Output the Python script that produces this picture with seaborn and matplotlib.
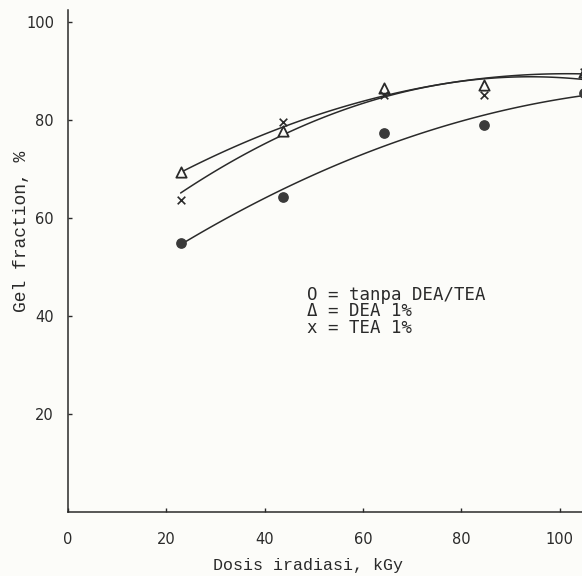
import numpy as np
import pandas as pd
import matplotlib
matplotlib.use('Agg')
import matplotlib.pyplot as plt
import seaborn as sns

# dosis iradiasi (kGy) dan fraksi gel (%)
DOSE = [22.9, 43.7, 64.3, 84.5, 104.9]
GEL_TANPA = [54.9, 64.3, 77.3, 79.0, 85.5]
GEL_DEA = [69.4, 77.8, 86.5, 87.1, 89.8]
GEL_TEA = [63.7, 79.6, 85.1, 85.1, 89.8]

X_TICKS = [0, 20, 40, 60, 80, 100]
Y_TICKS = [20, 40, 60, 80, 100]
LEGEND_LINES = ['O = tanpa DEA/TEA', '\u0394 = DEA 1%', 'x = TEA 1%']

INK = '#2a2a2a'
PAPER = '#fcfcf9'

sns.set_style('ticks')
plt.rcParams['font.family'] = ['DejaVu Sans']

fig = plt.figure(figsize=(5.82, 5.76), dpi=100, facecolor=PAPER)
ax = fig.add_axes([0.1168, 0.111, 0.8832, 0.8715])
ax.set_facecolor(PAPER)

# garis tren (polinomial orde 2) untuk tiap seri
for gel in (GEL_TANPA, GEL_DEA, GEL_TEA):
    sns.regplot(x=DOSE, y=gel, order=2, ci=None, scatter=False, ax=ax,
                line_kws={'color': INK, 'lw': 1.1})

ax.scatter(DOSE, GEL_TANPA, s=45, marker='o', color='#3a3a3a', zorder=3, clip_on=False)
ax.scatter(DOSE, GEL_DEA, s=55, marker='^', facecolors=PAPER, edgecolors=INK,
           linewidths=1.3, zorder=4, clip_on=False)
ax.scatter(DOSE, GEL_TEA, s=30, marker='x', color=INK, linewidths=1.2, zorder=5,
           clip_on=False)

ax.set_xlim(0, 104.5)
ax.set_ylim(0, 102.4)
ax.set_xticks(X_TICKS)
ax.set_yticks(Y_TICKS)
ax.tick_params(direction='in', length=3, width=1, colors=INK, labelsize=10.5)
ax.tick_params(axis='x', pad=14)
ax.tick_params(axis='y', pad=10)

sns.despine(ax=ax)
for side in ('left', 'bottom'):
    ax.spines[side].set_color(INK)
    ax.spines[side].set_linewidth(1.1)

ax.set_xlabel('Dosis iradiasi, kGy', family='Liberation Mono', fontsize=12, color=INK)
ax.set_ylabel('Gel fraction, %', family='Liberation Mono', fontsize=13, color=INK)
ax.xaxis.set_label_coords(0.467, -0.092)
ax.yaxis.set_label_coords(-0.074, 0.56)

for i, line in enumerate(LEGEND_LINES):
    ax.text(48.5, 44.3 - i * 3.35, line, family='DejaVu Sans Mono', fontsize=12.5,
            color=INK, va='center', ha='left')

fig.savefig('out.png', dpi=100, facecolor=PAPER)
